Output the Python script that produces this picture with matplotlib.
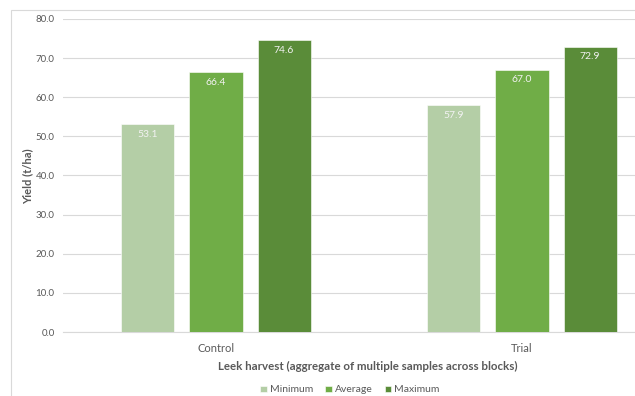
import matplotlib
matplotlib.use("Agg")
import matplotlib.pyplot as plt
from matplotlib.patches import Rectangle
import numpy as np

categories = ["Control", "Trial"]
series_names = ["Minimum", "Average", "Maximum"]
minimum = [53.1, 57.9]
average = [66.4, 67.0]
maximum = [74.6, 72.9]
y_ticks = [0, 10, 20, 30, 40, 50, 60, 70, 80]

colors = ["#B4CEA6", "#70AD47", "#5A8C39"]
text_gray = "#595959"
grid_gray = "#D9D9D9"

plt.rcParams["font.family"] = ["Lato", "DejaVu Sans"]

W, H = 635, 396
fig = plt.figure(figsize=(W / 100, H / 100), dpi=100)

# plot area (extends past the right edge of the canvas)
left_px, right_px, top_px, bottom_px = 63, 675, 19, 332
ax = fig.add_axes([left_px / W, 1 - bottom_px / H,
                   (right_px - left_px) / W, (bottom_px - top_px) / H])

# chart-area border
fig.patches.append(Rectangle((11 / W, -0.1), 1.2, 1 - 10 / H + 0.1,
                             transform=fig.transFigure, fill=False,
                             edgecolor="#D9D9D9", linewidth=0.8))

x = np.arange(len(categories))
bar_w = 0.1735
step = 0.2226
all_series = [minimum, average, maximum]
for i, (vals, col) in enumerate(zip(all_series, colors)):
    pos = x + (i - 1) * step
    bars = ax.bar(pos, vals, width=bar_w, color=col, edgecolor="#FFFFFF",
                  linewidth=0.4, zorder=3, label=series_names[i])
    for b, v in zip(bars, vals):
        ax.annotate(f"{v:.1f}", (b.get_x() + b.get_width() / 2, v),
                    xytext=(0, -4), textcoords="offset points",
                    ha="center", va="top", color="#F2F2F2", fontsize=7.5,
                    zorder=4)

ax.set_xlim(-0.5, 1.5)
ax.set_ylim(0, 80)
ax.set_yticks(y_ticks)
ax.set_yticklabels([f"{t:.1f}" for t in y_ticks])
ax.set_xticks(x)
ax.set_xticklabels(categories)
ax.tick_params(axis="both", length=0, colors=text_gray)
ax.tick_params(axis="y", labelsize=7, pad=6)
ax.tick_params(axis="x", labelsize=8, pad=8)
ax.yaxis.grid(True, color=grid_gray, linewidth=0.8, zorder=0)
for s in ["top", "right", "left"]:
    ax.spines[s].set_visible(False)
ax.spines["bottom"].set_color(grid_gray)
ax.spines["bottom"].set_linewidth(0.8)
ax.set_facecolor("none")

fig.text(28 / W, 1 - 176 / H, "Yield (t/ha)", rotation=90, ha="center",
         va="center", fontsize=8, fontweight="bold", color=text_gray)
fig.text(368 / W, 1 - 366 / H,
         "Leek harvest (aggregate of multiple samples across blocks)",
         ha="center", va="center", fontsize=8.3, fontweight="bold",
         color=text_gray)

leg = fig.legend(loc="center", bbox_to_anchor=(350 / W, 1 - 390 / H),
                 ncol=3, frameon=False, fontsize=7.5, handlelength=0.6,
                 handleheight=0.6, handletextpad=0.3, columnspacing=1.2,
                 borderaxespad=0, borderpad=0)
for t in leg.get_texts():
    t.set_color(text_gray)

fig.savefig("out.png", dpi=100)
